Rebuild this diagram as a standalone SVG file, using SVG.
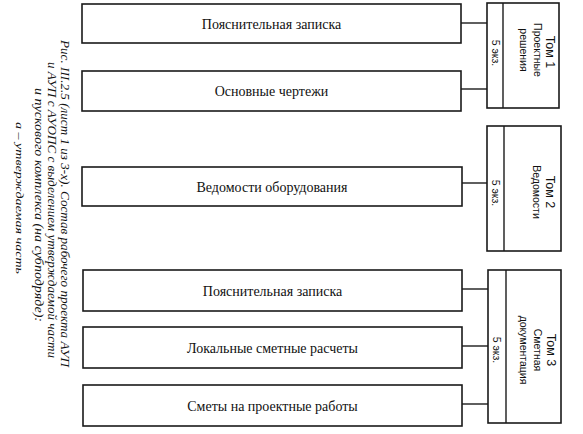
<svg xmlns="http://www.w3.org/2000/svg" width="583" height="434" viewBox="0 0 583 434">
<style>
.box{fill:#fff;stroke:#1a1a1a;stroke-width:1.6}
.ln{stroke:#1a1a1a;stroke-width:1.4;fill:none}
.lbl{font-family:"Liberation Serif",serif;font-size:14px;fill:#111;text-anchor:middle}
.vt{font-family:"Liberation Sans",sans-serif;font-size:10.5px;fill:#111;text-anchor:middle}
.vh{font-family:"Liberation Sans",sans-serif;font-size:12.5px;fill:#111;text-anchor:middle}
.cap{font-family:"Liberation Serif",serif;font-style:italic;font-size:12.5px;fill:#111}
</style>
<rect width="583" height="434" fill="#fff"/>
<g id="connectors">
<line class="ln" x1="461" y1="23" x2="487" y2="23"/>
<line class="ln" x1="461" y1="89" x2="487" y2="89"/>
<line class="ln" x1="462" y1="183" x2="487" y2="183"/>
<line class="ln" x1="462" y1="289" x2="488" y2="289"/>
<line class="ln" x1="462" y1="346" x2="488" y2="346"/>
<line class="ln" x1="462" y1="404" x2="488" y2="404"/>
</g>
<g id="n1"><rect class="box" x="82" y="4" width="379" height="39"/><text class="lbl" x="271.5" y="28.5">Пояснительная записка</text></g>
<g id="n2"><rect class="box" x="82" y="71" width="379" height="40"/><text class="lbl" x="271.5" y="96">Основные чертежи</text></g>
<g id="n3"><rect class="box" x="82" y="167" width="380" height="39"/><text class="lbl" x="272" y="191.5">Ведомости оборудования</text></g>
<g id="n4"><rect class="box" x="83" y="270" width="379" height="41"/><text class="lbl" x="272.5" y="295.5">Пояснительная записка</text></g>
<g id="n5"><rect class="box" x="83" y="327" width="379" height="41"/><text class="lbl" x="272.5" y="352.5">Локальные сметные расчеты</text></g>
<g id="n6"><rect class="box" x="83" y="385" width="379" height="41"/><text class="lbl" x="272.5" y="410.5">Сметы на проектные работы</text></g>
<g id="tom1">
<rect class="box" x="487" y="3" width="72" height="105"/>
<line class="ln" x1="503" y1="3" x2="503" y2="108"/>
<text class="vh" transform="translate(546,52) rotate(90)">Том 1</text>
<text class="vt" transform="translate(534,50) rotate(90)">Проектные</text>
<text class="vt" transform="translate(520,50) rotate(90)">решения</text>
<text class="vt" transform="translate(492,53) rotate(90)">5 экз.</text>
</g>
<g id="tom2">
<rect class="box" x="487" y="126" width="74" height="125"/>
<line class="ln" x1="504" y1="126" x2="504" y2="251"/>
<text class="vh" transform="translate(546,192) rotate(90)">Том 2</text>
<text class="vt" transform="translate(533,192) rotate(90)">Ведомости</text>
<text class="vt" transform="translate(492,193) rotate(90)">5 экз.</text>
</g>
<g id="tom3">
<rect class="box" x="488" y="270" width="73" height="153"/>
<line class="ln" x1="506" y1="270" x2="506" y2="423"/>
<text class="vh" transform="translate(547,350) rotate(90)">Том 3</text>
<text class="vt" transform="translate(534,350) rotate(90)">Сметная</text>
<text class="vt" transform="translate(520,350) rotate(90)">документация</text>
<text class="vt" transform="translate(493,350) rotate(90)">5 экз.</text>
</g>
<g id="caption">
<text class="cap" transform="translate(61,40) rotate(90)" textLength="327" lengthAdjust="spacingAndGlyphs">Рис. III.2.5 (лист 1 из 3-х). Состав рабочего проекта АУП</text>
<text class="cap" transform="translate(48,62) rotate(90)" textLength="296" lengthAdjust="spacingAndGlyphs">и АУП с АУОПС с выделением утверждаемой части</text>
<text class="cap" transform="translate(35,88) rotate(90)" textLength="234" lengthAdjust="spacingAndGlyphs">и пускового комплекса (на субподряде):</text>
<text class="cap" style="font-size:11px" transform="translate(16,122) rotate(90)" textLength="152" lengthAdjust="spacingAndGlyphs">а – утверждаемая часть</text>
</g>
</svg>
